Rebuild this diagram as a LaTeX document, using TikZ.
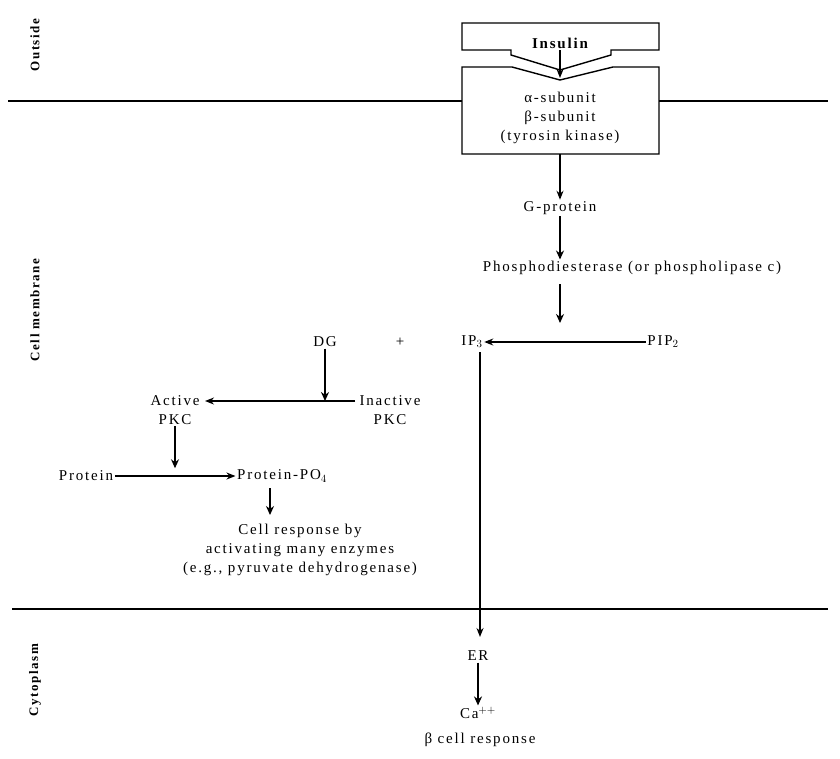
\documentclass[tikz,border=0pt]{standalone}
\usepackage{fontspec}
\setmainfont{Liberation Serif}[LetterSpace=12]
\usetikzlibrary{positioning,arrows.meta}
\begin{document}
\begin{tikzpicture}[x=1pt,y=-1pt,font=\fontsize{15}{19}\selectfont,
  line width=1.4pt,
  lbl/.style={inner sep=1pt,align=center},
  side/.style={rotate=90,font=\fontsize{13}{15}\selectfont\bfseries},
  flow/.style={-{Stealth[length=9pt,width=7pt,open]},line width=1.4pt},
  bigflow/.style={-{Stealth[length=9pt,width=8pt]},line width=2pt}]
\useasboundingbox (0,0) rectangle (840,758);
% membranes
\draw (8,101) -- (462,101) (659,101) -- (828,101);
\draw (12,609) -- (828,609);
\node[side] (out) at (35,45) {Outside};
\node[side] (mem) at (35,310) {Cell membrane};
\node[side] (cyt) at (35,680) {Cytoplasm};
% insulin and receptor
\draw (462,23) -- (659,23) -- (659,50) -- (611,50) -- (611,55) -- (560,70)
  -- (511,55) -- (511,50) -- (462,50) -- cycle;
\draw (462,67) -- (512,67) -- (560,80) -- (613,67) -- (659,67) -- (659,154) -- (462,154) -- cycle;
\node[lbl,font=\fontsize{15}{19}\selectfont\bfseries] (ins) at (560,43) {Insulin};
\coordinate (tip) at (560,78);
\draw[flow] (ins.south) -- (tip);
\node[lbl] (rec) at (560,118) {α-subunit\\β-subunit\\(tyrosin kinase)};
\coordinate (recb) at (560,154);
\node[lbl] (gp) at (560,208) {G-protein};
\node[lbl] (pde) at (632,268) {Phosphodiesterase (or phospholipase c)};
\coordinate (pdeb) at (560,284);
\node[lbl] (ip) at (472,342) {IP$_3$};
\coordinate (ipt) at (560,323);
\node[lbl] (pip) at (663,342) {PIP$_2$};
\node[lbl] (dg) at (325,342) {DG};
\node[lbl] (plus) at (400,342) {+};
\node[lbl] (act) at (175,410) {Active\\PKC};
\node[lbl] (inact) at (390,410) {Inactive\\PKC};
\coordinate (dgm) at (325,401);
\coordinate (actr) at (205,401);
\coordinate (inl) at (355,401);
\coordinate (ips) at (480,352);
\coordinate (ert) at (480,637);
\node[lbl] (prot) at (86,476) {Protein};
\node[lbl] (ppo) at (282,476) {Protein-PO$_4$};
\coordinate (ppob) at (270,488);
\coordinate (respt) at (270,515);
\node[lbl] (resp) at (300,550) {Cell response by\\activating many enzymes\\(e.g., pyruvate dehydrogenase)};
\node[lbl] (er) at (478,656) {ER};
\node[lbl] (ca) at (478,713) {Ca$^{++}$};
\node[lbl] (beta) at (480,740) {β cell response};
% connectors
\draw[flow] (recb) -- (gp);
\draw[bigflow] (gp) -- (gp|-pde.north);
\draw[bigflow] (pdeb) -- (ipt);
\draw[flow] (pip) -- (ip);
\draw[flow] (ips) -- (ert);
\draw[bigflow] (er) -- (ca);
\draw[flow] (inl) -- (actr);
\draw[bigflow] (dg) -- (dgm);
\draw[bigflow] (act) -- (act|-ppo.north);
\draw[flow] (prot) -- (ppo);
\draw[bigflow] (ppob) -- (respt);
\end{tikzpicture}
\end{document}
